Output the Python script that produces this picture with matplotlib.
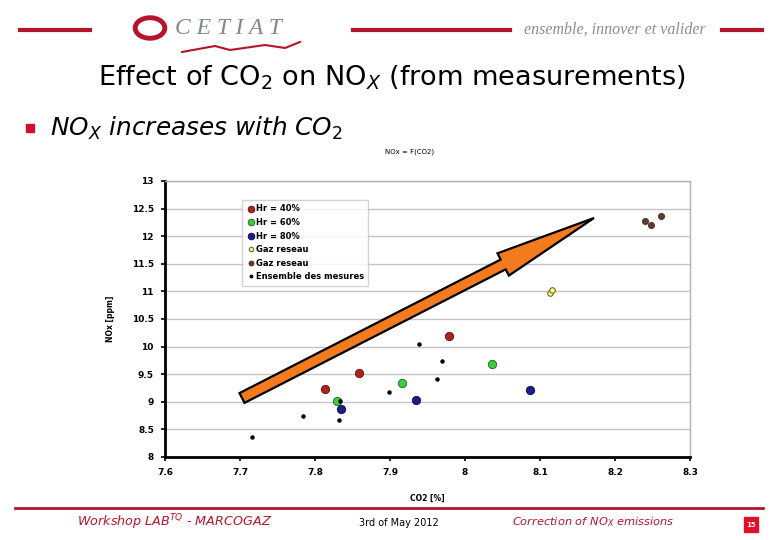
import matplotlib
matplotlib.use("Agg")
import matplotlib.pyplot as plt
import matplotlib.patches as mpatches
import matplotlib.transforms as mtransforms
from matplotlib.lines import Line2D

# data (CO2 %, NOx ppm)
hr40_co2 = [7.813, 7.858, 7.978]
hr40_nox = [9.23, 9.53, 10.19]
hr60_co2 = [7.829, 7.916, 8.036]
hr60_nox = [9.02, 9.34, 9.69]
hr80_co2 = [7.834, 7.934, 8.087]
hr80_nox = [8.87, 9.04, 9.22]
gaz1_co2 = [8.113, 8.116]
gaz1_nox = [10.97, 11.02]
gaz2_co2 = [8.240, 8.248, 8.261]
gaz2_nox = [12.28, 12.21, 12.37]
all_co2 = [7.716, 7.784, 7.832, 7.833, 7.899, 7.938, 7.963, 7.969]
all_nox = [8.37, 8.74, 8.665, 9.02, 9.17, 10.04, 9.41, 9.74]

RED = "#b5152b"
GREY = "#8c8c8c"

fig = plt.figure(figsize=(7.8, 5.4), dpi=100)
fig.patch.set_facecolor("white")

# --- slide header ---
for x0, x1 in [(20, 90), (353, 510), (722, 762)]:
    fig.add_artist(Line2D([x0 / 780, x1 / 780], [1 - 30 / 540] * 2, color=RED, lw=3))
fig.add_artist(mpatches.Circle((150 / 780, 1 - 28 / 540), 0.019, transform=fig.transFigure,
                               fill=False, ec=RED, lw=3.5))
fig.text(175 / 780, 1 - 28 / 540, "C E T I A T", family="Liberation Serif", style="italic",
         fontsize=17, color="#7f8a90", va="center", ha="left")
fig.add_artist(Line2D([182 / 780, 215 / 780, 230 / 780, 265 / 780, 285 / 780, 300 / 780],
                      [1 - 52 / 540, 1 - 46 / 540, 1 - 50 / 540, 1 - 45 / 540, 1 - 48 / 540, 1 - 42 / 540],
                      color=RED, lw=1.5))
fig.text(615 / 780, 1 - 30 / 540, "ensemble, innover et valider", family="Liberation Serif",
         style="italic", fontsize=11.5, color=GREY, va="center", ha="center")

fig.text(392 / 780, 1 - 78 / 540, "Effect of CO$_2$ on NO$_X$ (from measurements)",
         fontsize=19.5, ha="center", va="center", color="black")
fig.add_artist(mpatches.Rectangle((26 / 780, 1 - 132 / 540), 8 / 780, 8 / 540,
                                  transform=fig.transFigure, color="#d0102a"))
fig.text(50 / 780, 1 - 128 / 540, "NO$_X$ increases with CO$_2$", fontsize=17.8,
         style="italic", ha="left", va="center")
fig.text(410 / 780, 1 - 152 / 540, "NOx = F(CO2)", fontsize=5, ha="center", va="center")

# --- chart ---
ax = fig.add_axes([165 / 780, 83 / 540, 525 / 780, 276 / 540])
ax.set_xlim(7.6, 8.3)
ax.set_ylim(8, 13)
ax.set_xticks([7.6, 7.7, 7.8, 7.9, 8.0, 8.1, 8.2, 8.3])
ax.set_xticklabels(["7.6", "7.7", "7.8", "7.9", "8", "8.1", "8.2", "8.3"])
ax.set_yticks([8, 8.5, 9, 9.5, 10, 10.5, 11, 11.5, 12, 12.5, 13])
ax.set_yticklabels(["8", "8.5", "9", "9.5", "10", "10.5", "11", "11.5", "12", "12.5", "13"])
ax.grid(axis="y", color="#c4c4c4", lw=1)
ax.set_axisbelow(True)
for s in ["left", "bottom"]:
    ax.spines[s].set_linewidth(2)
    ax.spines[s].set_color("black")
for s in ["top", "right"]:
    ax.spines[s].set_color("#b0b0b0")
    ax.spines[s].set_linewidth(1)
ax.tick_params(labelsize=6.5, length=3, width=1.2, pad=5)
for lab in ax.get_xticklabels() + ax.get_yticklabels():
    lab.set_fontweight("bold")
ax.set_xlabel("CO2 [%]", fontsize=5.5, fontweight="bold", labelpad=12)
ax.set_ylabel("NOx [ppm]", fontsize=5.5, fontweight="bold", labelpad=12)

ax.plot(hr40_co2, hr40_nox, "o", ms=6, mfc="#b02020", mec="#5a1010", mew=0.6, label="Hr = 40%", zorder=3)
ax.plot(hr60_co2, hr60_nox, "o", ms=6, mfc="#3ccc3c", mec="#1f5f1f", mew=0.6, label="Hr = 60%", zorder=3)
ax.plot(hr80_co2, hr80_nox, "o", ms=6, mfc="#1c1c8c", mec="#0c0c40", mew=0.6, label="Hr = 80%", zorder=3)
ax.plot(gaz1_co2, gaz1_nox, "o", ms=4, mfc="#ffff99", mec="#6b6b1e", mew=0.8, label="Gaz reseau", zorder=3)
ax.plot(gaz2_co2, gaz2_nox, "o", ms=4.5, mfc="#5e3a2a", mec="#3a2418", mew=0.5, label="Gaz reseau", zorder=3)
ax.plot(all_co2, all_nox, "o", ms=2.2, mfc="black", mec="black", label="Ensemble des mesures", zorder=4)

leg = ax.legend(loc="upper left", bbox_to_anchor=(0.147, 0.93), fontsize=6, frameon=True,
                fancybox=False, edgecolor="#c8c8c8", borderpad=0.5, handletextpad=0.1,
                handlelength=1.0, labelspacing=0.55, markerscale=0.8, borderaxespad=0)
for t in leg.get_texts():
    t.set_fontweight("bold")
leg.set_zorder(5)

# orange trend arrow drawn in pixel coordinates
arrow = mpatches.FancyArrow(242, 142, 352, 180, width=11, head_width=25, head_length=102,
                            length_includes_head=True, fc="#f47a1f", ec="black", lw=1.6,
                            transform=mtransforms.IdentityTransform(), zorder=10)
fig.add_artist(arrow)

# --- footer ---
fig.add_artist(Line2D([15 / 780, 763 / 780], [1 - 508 / 540] * 2, color=RED, lw=2))
fig.text(175 / 780, 1 - 522 / 540, "Workshop LAB$^{TQ}$ - MARCOGAZ", fontsize=9.2, style="italic",
         color=RED, ha="center", va="center")
fig.text(399 / 780, 1 - 523 / 540, "3rd of May 2012", fontsize=7, ha="center", va="center")
fig.text(593 / 780, 1 - 522 / 540, "Correction of NO$_X$ emissions", fontsize=8.2, style="italic",
         color=RED, ha="center", va="center")
fig.add_artist(mpatches.Rectangle((744 / 780, 1 - 532 / 540), 14 / 780, 15 / 540,
                                  transform=fig.transFigure, color="#e0102a"))
fig.text(751 / 780, 1 - 525 / 540, "15", fontsize=5, color="white", ha="center", va="center",
         fontweight="bold")

fig.savefig("out.png", dpi=100)
